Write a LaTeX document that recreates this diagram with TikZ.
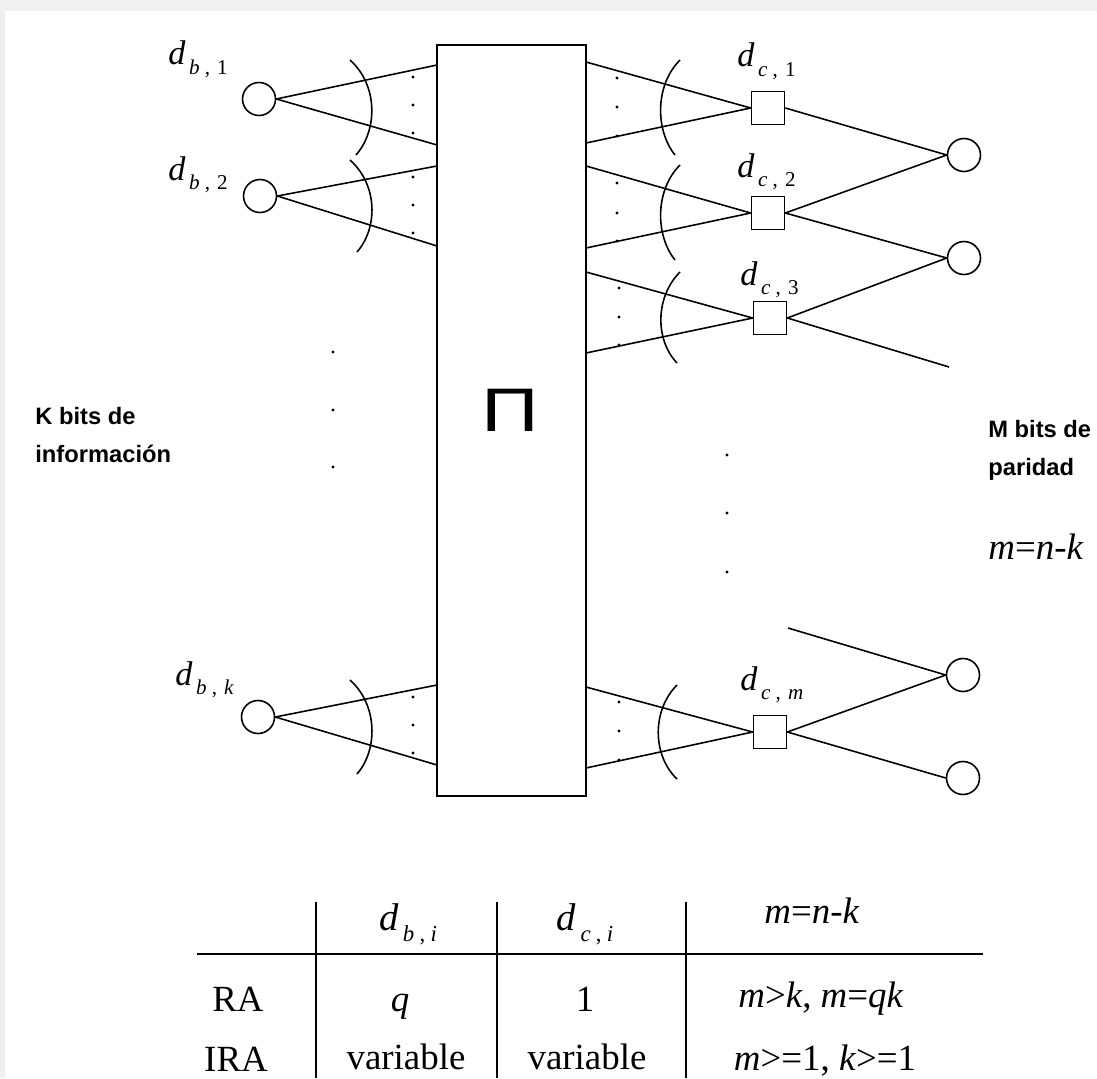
\documentclass[tikz,border=0pt]{standalone}
\usepackage{fontspec}
\setmainfont{Liberation Serif}
\newfontfamily\lsans{Liberation Sans}
\newcommand{\dl}[1]{{\fontsize{19.5}{19.5}\selectfont\textit{d}}\kern2pt\raisebox{-5.5pt}{\fontsize{12}{12}\selectfont #1}}
\newcommand{\dt}[1]{{\fontsize{22}{22}\selectfont\textit{d}}\kern2.5pt\raisebox{-6.5pt}{\fontsize{13}{13}\selectfont #1}}
\begin{document}
\begin{tikzpicture}[x=0.02cm,y=-0.02cm,
  conn/.style={line width=0.9pt},
  vnode/.style={draw,circle,line width=0.9pt,minimum size=0.66cm,inner sep=0pt},
  cnode/.style={draw,rectangle,line width=0.9pt,minimum size=0.66cm,inner sep=0pt},
  brace/.style={line width=0.9pt},
  lbl/.style={anchor=base west,inner sep=0pt},
  tcell/.style={anchor=base,inner sep=0pt,font=\fontsize{21}{21}\selectfont},
  side/.style={anchor=base west,inner sep=0pt,align=left,font=\lsans\bfseries\fontsize{13.5}{21.5}\selectfont},
  tline/.style={line width=0.9pt}]
\fill[gray!12] (0,0) rectangle (1097,1078);
\fill[white] (5,11) rectangle (1097,1078);
\useasboundingbox (0,0) rectangle (1097,1078);

% interleaver
\node[draw,line width=1.2pt,minimum width=2.98cm,minimum height=15.02cm,inner sep=0pt] (pi) at (511.5,420.5) {};
\node[inner sep=0pt] (pisym) at (510,410) {\lsans\fontsize{35}{35}\selectfont\scalebox{1.3}[1]{Π}};

% box edge points
\foreach \n/\x/\y in {L1a/437/65, L1b/437/145, L2a/437/166, L2b/437/246, Lka/437/685, Lkb/437/765,
  R1a/586/62, R1b/586/143, R2a/586/166, R2b/586/248, R3a/586/272, R3b/586/353, Rma/586/687, Rmb/586/768}
  \coordinate (\n) at (\x,\y);

% variable nodes (left)
\node[vnode] (b1) at (259,99) {};
\node[vnode] (b2) at (260,196) {};
\node[vnode] (bk) at (258,717) {};
\node[lbl] (lb1) at (168,65) {\dl{\textit{b}\hspace{3pt},\hspace{4pt}1}};
\node[lbl] (lb2) at (168,180) {\dl{\textit{b}\hspace{3pt},\hspace{4pt}2}};
\node[lbl] (lbk) at (175,685) {\dl{\textit{b}\hspace{3pt},\hspace{4pt}\textit{k}}};

\draw[conn] (b1.east) -- (L1a); \draw[conn] (b1.east) -- (L1b);
\draw[conn] (b2.east) -- (L2a); \draw[conn] (b2.east) -- (L2b);
\draw[conn] (bk.east) -- (Lka); \draw[conn] (bk.east) -- (Lkb);

\draw[brace] (350,60) .. controls (378,85) and (378,130) .. (356,155);
\draw[brace] (350,160) .. controls (378,185) and (378,228) .. (357,252);
\draw[brace] (350,680) .. controls (378,705) and (378,750) .. (357,774);

\foreach \y in {77,105,133,177,205,233,697,725,753} \fill (413,\y) circle (0.95pt);
\foreach \y in {352,410,467} \fill (333,\y) circle (0.95pt);

% check nodes
\node[cnode] (s1) at (768,108) {};
\node[cnode] (s2) at (768,213) {};
\node[cnode] (s3) at (770,318) {};
\node[cnode] (sm) at (770,732) {};
\node[lbl] (lc1) at (737,67) {\dl{\textit{c}\hspace{3pt},\hspace{4pt}1}};
\node[lbl] (lc2) at (737,177) {\dl{\textit{c}\hspace{3pt},\hspace{4pt}2}};
\node[lbl] (lc3) at (740,285) {\dl{\textit{c}\hspace{3pt},\hspace{4pt}3}};
\node[lbl] (lcm) at (740,690) {\dl{\textit{c}\hspace{3pt},\hspace{4pt}\textit{m}}};

\draw[conn] (R1a) -- (s1.west); \draw[conn] (R1b) -- (s1.west);
\draw[conn] (R2a) -- (s2.west); \draw[conn] (R2b) -- (s2.west);
\draw[conn] (R3a) -- (s3.west); \draw[conn] (R3b) -- (s3.west);
\draw[conn] (Rma) -- (sm.west); \draw[conn] (Rmb) -- (sm.west);

\draw[brace] (680,60) .. controls (655,85) and (655,130) .. (675,155);
\draw[brace] (680,165) .. controls (655,190) and (655,235) .. (675,260);
\draw[brace] (680,272) .. controls (655,297) and (655,340) .. (677,363);
\draw[brace] (677,685) .. controls (652,710) and (652,755) .. (677,779);

\foreach \y in {78,107,136,183,213,241} \fill (617,\y) circle (0.95pt);
\foreach \y in {288,317,345,702,731,760} \fill (619,\y) circle (0.95pt);
\foreach \y in {455,513,572} \fill (727,\y) circle (0.95pt);

% parity nodes
\node[vnode] (r1) at (964,155) {};
\node[vnode] (r2) at (964,258) {};
\node[vnode] (r3) at (963,675) {};
\node[vnode] (r4) at (963,778) {};
\coordinate (c3end) at (949,367);
\coordinate (cmstart) at (788,628);

\draw[conn] (s1.east) -- (r1.west);
\draw[conn] (s2.east) -- (r1.west); \draw[conn] (s2.east) -- (r2.west);
\draw[conn] (s3.east) -- (r2.west); \draw[conn] (s3.east) -- (c3end);
\draw[conn] (cmstart) -- (r3.west);
\draw[conn] (sm.east) -- (r3.west); \draw[conn] (sm.east) -- (r4.west);

% side texts
\node[side] (ktxt) at (35,462) {K bits de\\información};
\node[side] (mtxt) at (988,475) {M bits de\\paridad};
\node[anchor=base west,inner sep=0pt,font=\fontsize{21}{21}\selectfont] (mnk) at (988,559) {\textit{m}=\textit{n}-\textit{k}};

% table
\coordinate (hl) at (197,954); \coordinate (hr) at (983,954);
\draw[line width=1.2pt] (hl) -- (hr);
\foreach \n/\x in {v1/316, v2/497, v3/686} {
  \coordinate (\n t) at (\x,902); \coordinate (\n b) at (\x,1078);
  \draw[tline] (\n t) -- (\n b);
}
\node[tcell] (hdb) at (408,930) {\dt{\textit{b}\hspace{3pt},\hspace{3pt}\textit{i}}};
\node[tcell] (hdc) at (585,930) {\dt{\textit{c}\hspace{3pt},\hspace{3pt}\textit{i}}};
\node[tcell] (hm) at (812,923) {\textit{m}=\textit{n}-\textit{k}};
\node[tcell] (ra) at (238,1011) {RA};
\node[tcell] (raq) at (400,1011) {\textit{q}};
\node[tcell] (ra1) at (585,1011) {1};
\node[tcell] (ram) at (821,1007) {\textit{m}>\textit{k}, \textit{m}=\textit{qk}};
\node[tcell] (ira) at (236,1071) {IRA};
\node[tcell] (irab) at (406,1069) {variable};
\node[tcell] (irac) at (587,1069) {variable};
\node[tcell] (iram) at (825,1070) {\textit{m}>=1, \textit{k}>=1};
\end{tikzpicture}
\end{document}
